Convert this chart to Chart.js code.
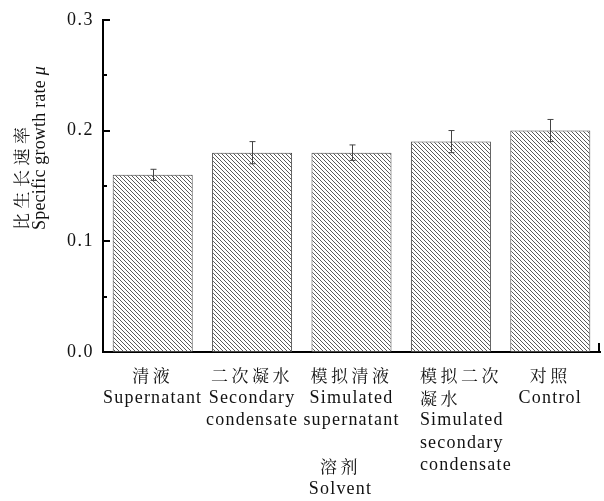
<!DOCTYPE html>
<html>
<head>
<meta charset="utf-8">
<script src="https://cdn.jsdelivr.net/npm/chart.js@4/dist/chart.umd.min.js"></script>
<style>
  html, body { margin: 0; padding: 0; background: #fff; }
  #wrap { width: 604px; height: 501px; }
</style>
</head>
<body>
<div id="wrap"><canvas id="c" width="604" height="501"></canvas></div>
<script>
// ---- data ----
const categoryLabels = [
  ["清液", "Supernatant"],
  ["二次凝水", "Secondary", "condensate"],
  ["模拟清液", "Simulated", "supernatant"],
  ["模拟二次", "凝水", "Simulated", "secondary", "condensate"],
  ["对照", "Control"]
];
const growthRate = [0.16, 0.18, 0.18, 0.19, 0.20];
const growthError = [0.005, 0.010, 0.007, 0.010, 0.010];
const yTickValues = [0.0, 0.1, 0.2, 0.3];
const yTitleZh = "比生长速率";
const yTitleEn = "Specific growth rate ";
const yTitleSymbol = "μ";
const xTitleZh = "溶剂";
const xTitleEn = "Solvent";

// ---- styles ----
const SERIF = '"Liberation Serif", "Times New Roman", serif';
const CJK = '"Noto Serif CJK SC", "Noto Sans CJK SC", sans-serif';
const TEXT = '#111';
const isCJK = s => /[\u3400-\u9fff]/.test(s);

function makeHatch() {
  const t = document.createElement('canvas');
  t.width = 4; t.height = 4;
  const g = t.getContext('2d');
  g.fillStyle = '#fff';
  g.fillRect(0, 0, 4, 4);
  g.fillStyle = '#5a5a5a';
  for (let i = 0; i < 4; i++) g.fillRect(i, i, 1, 1);
  return g.createPattern(t, 'repeat');
}
const ctx0 = document.getElementById('c').getContext('2d');
const hatch = makeHatch();

function setFont(ctx, s, size) {
  if (isCJK(s)) {
    ctx.font = (size - 1) + 'px ' + CJK;
    ctx.letterSpacing = '3.5px';
  } else {
    ctx.font = size + 'px ' + SERIF;
    ctx.letterSpacing = '1.2px';
  }
}

const decorPlugin = {
  id: 'decor',
  beforeDraw(chart) {
    chart.ctx.letterSpacing = '1.5px';
  },
  afterDatasetsDraw(chart) {
    const ctx = chart.ctx;
    const x = chart.scales.x, y = chart.scales.y;
    const meta = chart.getDatasetMeta(0);
    ctx.save();
    // error bars
    ctx.strokeStyle = '#444';
    ctx.lineWidth = 1;
    growthRate.forEach((v, i) => {
      const px = Math.round(meta.data[i].x) + 0.5;
      const yt = y.getPixelForValue(v + growthError[i]);
      const yb = y.getPixelForValue(v - growthError[i]);
      ctx.beginPath();
      ctx.moveTo(px, yt); ctx.lineTo(px, yb);
      ctx.moveTo(px - 3, yt); ctx.lineTo(px + 3, yt);
      ctx.moveTo(px - 3, yb); ctx.lineTo(px + 3, yb);
      ctx.stroke();
    });
    // inward y ticks (major + minor)
    ctx.strokeStyle = '#000';
    ctx.lineWidth = 2;
    const left = chart.chartArea.left;
    for (let k = 1; k <= 6; k++) {
      const val = k * 0.05;
      const py = Math.round(y.getPixelForValue(val));
      const len = (k % 2 === 0) ? 7 : 4;
      ctx.beginPath();
      ctx.moveTo(left, py); ctx.lineTo(left + len, py);
      ctx.stroke();
    }
    // right end tick of x axis
    const r = chart.chartArea.right, b = chart.chartArea.bottom;
    ctx.beginPath();
    ctx.moveTo(r - 1, b); ctx.lineTo(r - 1, b - 9);
    ctx.stroke();

    // category labels
    ctx.fillStyle = TEXT;
    ctx.textBaseline = 'middle';
    categoryLabels.forEach((lines, i) => {
      const cx = x.getPixelForValue(i);
      const leftAligned = (i === 3);
      lines.forEach((s, j) => {
        setFont(ctx, s, 18);
        const yy = b + 24 + j * 22.3;
        if (leftAligned) {
          ctx.textAlign = 'left';
          ctx.fillText(s, cx - 31, yy);
        } else {
          ctx.textAlign = 'center';
          ctx.fillText(s, cx, yy);
        }
      });
    });
    // x title
    const tx = x.getPixelForValue(2) - 11;
    setFont(ctx, xTitleZh, 18);
    ctx.textAlign = 'center';
    ctx.fillText(xTitleZh, tx, b + 115);
    setFont(ctx, xTitleEn, 18);
    ctx.fillText(xTitleEn, tx, b + 137);

    // y title (rotated)
    ctx.save();
    ctx.translate(0, 230);
    ctx.rotate(-Math.PI / 2);
    ctx.textAlign = 'left';
    ctx.textBaseline = 'middle';
    ctx.font = '17px ' + CJK;
    ctx.letterSpacing = '4.5px';
    ctx.fillText(yTitleZh, 0, 22);
    ctx.font = '18px ' + SERIF;
    ctx.letterSpacing = '0.2px';
    ctx.fillText(yTitleEn, 0, 40);
    const w = ctx.measureText(yTitleEn).width;
    ctx.font = 'italic 18px ' + SERIF;
    ctx.fillText(yTitleSymbol, w, 40);
    ctx.restore();

    ctx.restore();
  },
  afterDraw(chart) {
    chart.ctx.letterSpacing = '0px';
  }
};

new Chart(ctx0, {
  type: 'bar',
  data: {
    labels: categoryLabels.map(l => l.join(' ')),
    datasets: [{
      data: growthRate,
      backgroundColor: hatch,
      borderColor: '#444',
      borderWidth: 1,
      borderSkipped: false,
      barPercentage: 0.805,
      categoryPercentage: 1.0
    }]
  },
  options: {
    responsive: false,
    devicePixelRatio: 1,
    animation: false,
    layout: { padding: { top: 18, right: 4, left: 0, bottom: 0 } },
    plugins: { legend: { display: false }, tooltip: { enabled: false } },
    scales: {
      x: {
        type: 'category',
        offset: true,
        grid: { display: false, drawTicks: false },
        border: { display: true, color: '#000', width: 2 },
        ticks: { display: false },
        afterFit(scale) { scale.height = 149; }
      },
      y: {
        min: 0, max: 0.3,
        afterBuildTicks(scale) { scale.ticks = yTickValues.map(v => ({ value: v })); },
        grid: { display: false, drawTicks: false },
        border: { display: true, color: '#000', width: 2 },
        ticks: {
          padding: 9,
          color: TEXT,
          font: { family: SERIF, size: 18 },
          callback: v => Number(v).toFixed(1)
        },
        afterFit(scale) { scale.width = 103; }
      }
    }
  },
  plugins: [decorPlugin]
});
</script>
</body>
</html>
